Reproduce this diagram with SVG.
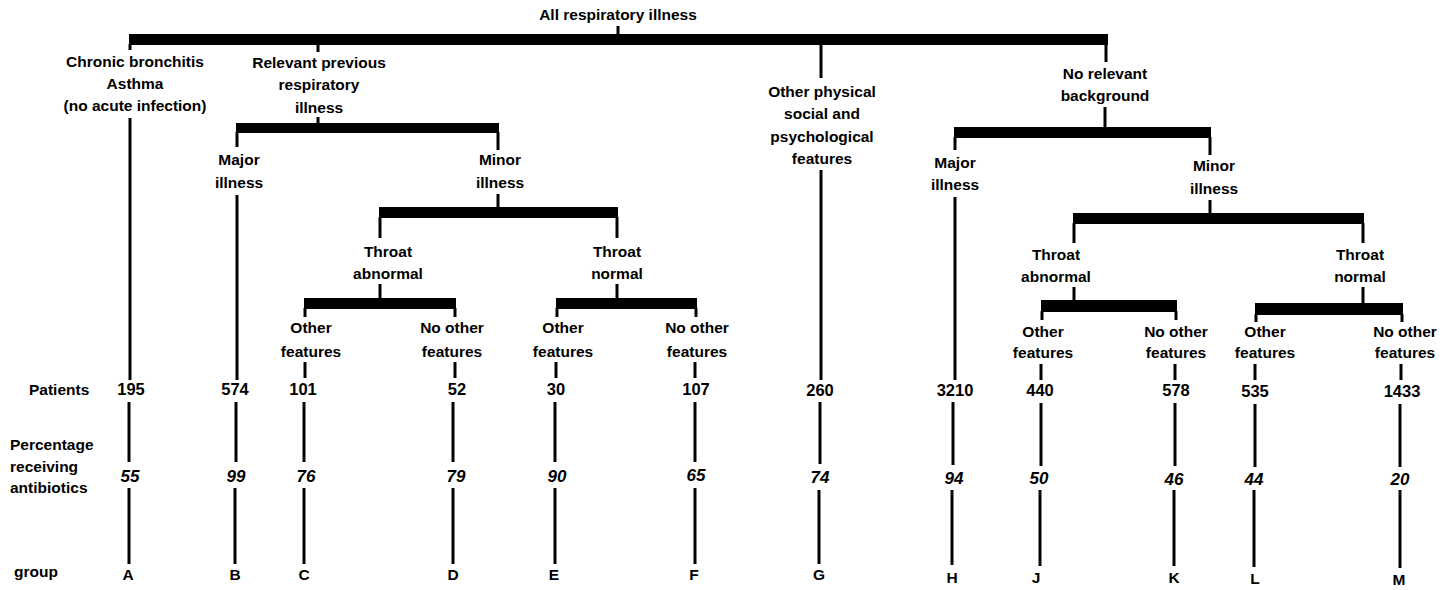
<svg xmlns="http://www.w3.org/2000/svg" width="1448" height="590" viewBox="0 0 1448 590">
<style>
text{font-family:"Liberation Sans",Arial,sans-serif;font-weight:bold;font-size:15.5px;fill:#000}
.c{text-anchor:middle}
.l{text-anchor:start}
.p{font-size:16.5px}
.n{font-style:italic;font-size:17px}
.ln{stroke:#000;stroke-width:3;fill:none}
.bar{fill:#000}
</style>
<rect width="1448" height="590" fill="#fff"/>
<g id="connectors">
<line class="ln" x1="618" y1="26" x2="618" y2="36"/>
<rect class="bar" x="129" y="34" width="979" height="11"/>
<line class="ln" x1="130" y1="44" x2="130" y2="50"/>
<line class="ln" x1="318" y1="44" x2="318" y2="52"/>
<line class="ln" x1="821" y1="44" x2="821" y2="78"/>
<line class="ln" x1="1106" y1="44" x2="1106" y2="62"/>
<line class="ln" x1="130" y1="118" x2="130" y2="380"/>
<line class="ln" x1="318" y1="117" x2="318" y2="124"/>
<rect class="bar" x="236" y="123" width="263" height="10"/>
<line class="ln" x1="237" y1="132" x2="237" y2="147"/>
<line class="ln" x1="498" y1="132" x2="498" y2="150"/>
<line class="ln" x1="237" y1="195" x2="237" y2="380"/>
<line class="ln" x1="498" y1="194" x2="498" y2="208"/>
<rect class="bar" x="379" y="207" width="239" height="11"/>
<line class="ln" x1="380" y1="217" x2="380" y2="238"/>
<line class="ln" x1="617" y1="217" x2="617" y2="238"/>
<line class="ln" x1="380" y1="284" x2="380" y2="299"/>
<rect class="bar" x="304" y="298" width="152" height="11"/>
<line class="ln" x1="305" y1="308" x2="305" y2="317"/>
<line class="ln" x1="455" y1="308" x2="455" y2="317"/>
<line class="ln" x1="617" y1="284" x2="617" y2="299"/>
<rect class="bar" x="556" y="298" width="141" height="11"/>
<line class="ln" x1="557" y1="308" x2="557" y2="317"/>
<line class="ln" x1="696" y1="308" x2="696" y2="317"/>
<line class="ln" x1="305" y1="362" x2="305" y2="378"/>
<line class="ln" x1="455" y1="362" x2="455" y2="378"/>
<line class="ln" x1="556" y1="362" x2="556" y2="378"/>
<line class="ln" x1="695" y1="362" x2="695" y2="378"/>
<line class="ln" x1="821" y1="170" x2="821" y2="380"/>
<line class="ln" x1="1105" y1="107" x2="1105" y2="128"/>
<rect class="bar" x="954" y="127" width="257" height="11"/>
<line class="ln" x1="955" y1="137" x2="955" y2="150"/>
<line class="ln" x1="1210" y1="137" x2="1210" y2="155"/>
<line class="ln" x1="955" y1="197" x2="955" y2="380"/>
<line class="ln" x1="1210" y1="200" x2="1210" y2="214"/>
<rect class="bar" x="1073" y="213" width="291" height="11"/>
<line class="ln" x1="1074" y1="223" x2="1074" y2="243"/>
<line class="ln" x1="1363" y1="223" x2="1363" y2="243"/>
<line class="ln" x1="1074" y1="287" x2="1074" y2="301"/>
<rect class="bar" x="1041" y="300" width="136" height="12"/>
<line class="ln" x1="1042" y1="311" x2="1042" y2="320"/>
<line class="ln" x1="1176" y1="311" x2="1176" y2="320"/>
<line class="ln" x1="1363" y1="287" x2="1363" y2="304"/>
<rect class="bar" x="1255" y="303" width="148" height="12"/>
<line class="ln" x1="1256" y1="314" x2="1256" y2="322"/>
<line class="ln" x1="1402" y1="314" x2="1402" y2="322"/>
<line class="ln" x1="1041" y1="364" x2="1041" y2="380"/>
<line class="ln" x1="1175" y1="364" x2="1175" y2="380"/>
<line class="ln" x1="1255" y1="364" x2="1255" y2="380"/>
<line class="ln" x1="1401" y1="364" x2="1401" y2="380"/>
<line class="ln" x1="129" y1="402" x2="129" y2="462"/><line class="ln" x1="129" y1="488" x2="129" y2="564"/>
<line class="ln" x1="236" y1="402" x2="236" y2="462"/><line class="ln" x1="235" y1="488" x2="235" y2="564"/>
<line class="ln" x1="304" y1="402" x2="304" y2="462"/><line class="ln" x1="304" y1="488" x2="304" y2="564"/>
<line class="ln" x1="453" y1="402" x2="453" y2="462"/><line class="ln" x1="453" y1="488" x2="453" y2="564"/>
<line class="ln" x1="555" y1="402" x2="555" y2="462"/><line class="ln" x1="555" y1="488" x2="555" y2="564"/>
<line class="ln" x1="695" y1="402" x2="695" y2="462"/><line class="ln" x1="695" y1="488" x2="695" y2="564"/>
<line class="ln" x1="820" y1="402" x2="820" y2="464"/><line class="ln" x1="819" y1="490" x2="819" y2="564"/>
<line class="ln" x1="953" y1="402" x2="953" y2="465"/><line class="ln" x1="952" y1="490" x2="952" y2="565"/>
<line class="ln" x1="1041" y1="403" x2="1041" y2="466"/><line class="ln" x1="1040" y1="490" x2="1040" y2="566"/>
<line class="ln" x1="1175" y1="403" x2="1175" y2="466"/><line class="ln" x1="1174" y1="490" x2="1174" y2="566"/>
<line class="ln" x1="1255" y1="404" x2="1255" y2="467"/><line class="ln" x1="1254" y1="490" x2="1254" y2="567"/>
<line class="ln" x1="1400" y1="404" x2="1400" y2="467"/><line class="ln" x1="1400" y1="490" x2="1400" y2="568"/>
</g>
<g id="root"><text class="c" x="618" y="20">All respiratory illness</text></g>
<g id="chronic"><text class="c" x="135" y="67">Chronic bronchitis</text><text class="c" x="135" y="89">Asthma</text><text class="c" x="135" y="111">(no acute infection)</text></g>
<g id="relevant"><text class="c" x="319" y="68">Relevant previous</text><text class="c" x="319" y="90">respiratory</text><text class="c" x="319" y="113">illness</text></g>
<g id="major-l"><text class="c" x="239" y="165">Major</text><text class="c" x="239" y="188">illness</text></g>
<g id="minor-l"><text class="c" x="500" y="165">Minor</text><text class="c" x="500" y="188">illness</text></g>
<g id="throat-abn-l"><text class="c" x="388" y="257">Throat</text><text class="c" x="388" y="279">abnormal</text></g>
<g id="throat-nor-l"><text class="c" x="617" y="257">Throat</text><text class="c" x="617" y="279">normal</text></g>
<g id="feat-c"><text class="c" x="311" y="333">Other</text><text class="c" x="311" y="357">features</text></g>
<g id="feat-d"><text class="c" x="452" y="333">No other</text><text class="c" x="452" y="357">features</text></g>
<g id="feat-e"><text class="c" x="563" y="333">Other</text><text class="c" x="563" y="357">features</text></g>
<g id="feat-f"><text class="c" x="697" y="333">No other</text><text class="c" x="697" y="357">features</text></g>
<g id="other-physical"><text class="c" x="822" y="97">Other physical</text><text class="c" x="822" y="119">social and</text><text class="c" x="822" y="142">psychological</text><text class="c" x="822" y="164">features</text></g>
<g id="no-relevant"><text class="c" x="1105" y="79">No relevant</text><text class="c" x="1105" y="101">background</text></g>
<g id="major-r"><text class="c" x="955" y="168">Major</text><text class="c" x="955" y="190">illness</text></g>
<g id="minor-r"><text class="c" x="1214" y="171">Minor</text><text class="c" x="1214" y="194">illness</text></g>
<g id="throat-abn-r"><text class="c" x="1056" y="260">Throat</text><text class="c" x="1056" y="282">abnormal</text></g>
<g id="throat-nor-r"><text class="c" x="1360" y="260">Throat</text><text class="c" x="1360" y="282">normal</text></g>
<g id="feat-j"><text class="c" x="1043" y="337">Other</text><text class="c" x="1043" y="358">features</text></g>
<g id="feat-k"><text class="c" x="1176" y="337">No other</text><text class="c" x="1176" y="358">features</text></g>
<g id="feat-l"><text class="c" x="1265" y="337">Other</text><text class="c" x="1265" y="358">features</text></g>
<g id="feat-m"><text class="c" x="1405" y="337">No other</text><text class="c" x="1405" y="358">features</text></g>
<g id="row-labels"><text class="l" x="29" y="395">Patients</text><text class="l" x="10" y="450">Percentage</text><text class="l" x="10" y="472">receiving</text><text class="l" x="10" y="493">antibiotics</text><text class="l" x="14" y="577">group</text></g>
<g id="col-a"><text class="c p" x="131" y="395">195</text><text class="c n" x="130" y="482">55</text><text class="c" x="128" y="580">A</text></g>
<g id="col-b"><text class="c p" x="235" y="395">574</text><text class="c n" x="236" y="482">99</text><text class="c" x="235" y="580">B</text></g>
<g id="col-c"><text class="c p" x="303" y="395">101</text><text class="c n" x="306" y="482">76</text><text class="c" x="304" y="580">C</text></g>
<g id="col-d"><text class="c p" x="457" y="395">52</text><text class="c n" x="456" y="482">79</text><text class="c" x="453" y="580">D</text></g>
<g id="col-e"><text class="c p" x="556" y="395">30</text><text class="c n" x="557" y="482">90</text><text class="c" x="554" y="580">E</text></g>
<g id="col-f"><text class="c p" x="696" y="395">107</text><text class="c n" x="696" y="481">65</text><text class="c" x="694" y="580">F</text></g>
<g id="col-g"><text class="c p" x="820" y="396">260</text><text class="c n" x="820" y="483">74</text><text class="c" x="819" y="580">G</text></g>
<g id="col-h"><text class="c p" x="955" y="396">3210</text><text class="c n" x="954" y="484">94</text><text class="c" x="952" y="583">H</text></g>
<g id="col-j"><text class="c p" x="1040" y="396">440</text><text class="c n" x="1039" y="484">50</text><text class="c" x="1036" y="583">J</text></g>
<g id="col-k"><text class="c p" x="1176" y="396">578</text><text class="c n" x="1174" y="485">46</text><text class="c" x="1174" y="583">K</text></g>
<g id="col-l"><text class="c p" x="1255" y="397">535</text><text class="c n" x="1254" y="485">44</text><text class="c" x="1255" y="584">L</text></g>
<g id="col-m"><text class="c p" x="1402" y="397">1433</text><text class="c n" x="1400" y="485">20</text><text class="c" x="1399" y="585">M</text></g>
</svg>
